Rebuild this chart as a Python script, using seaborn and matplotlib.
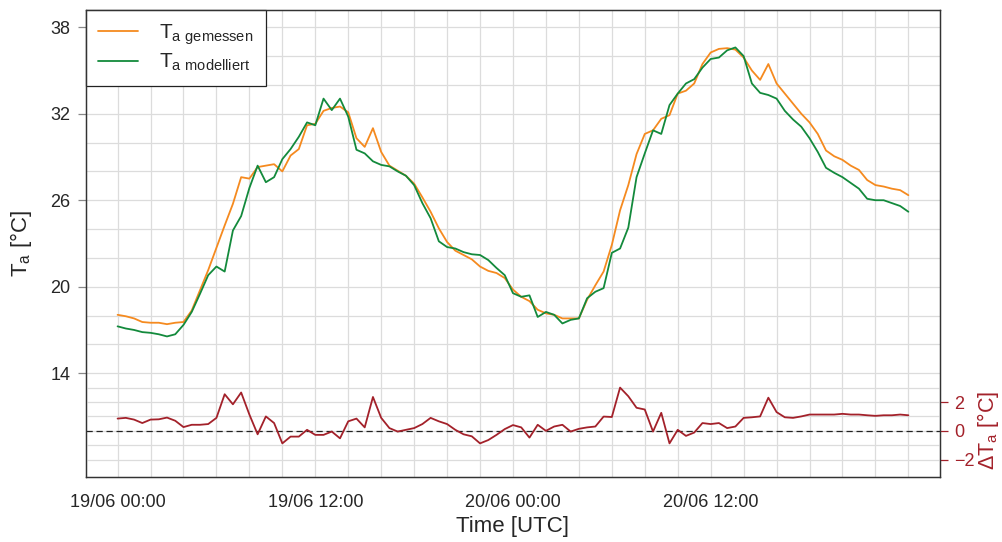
import numpy as np
import pandas as pd
import matplotlib
matplotlib.use("Agg")
import matplotlib.pyplot as plt
import seaborn as sns

# half-hourly values, 19/06 00:00 .. 21/06 00:00 (UTC)
ta_gemessen = [
    18.05, 17.95, 17.8, 17.55, 17.5, 17.5, 17.4, 17.5, 17.55, 18.35, 19.75, 21.15,
    22.7, 24.25, 25.75, 27.6, 27.5, 28.3, 28.4, 28.5, 28.0, 29.1, 29.55, 31.2,
    31.3, 32.2, 32.4, 32.5, 32.1, 30.3, 29.7, 31.0, 29.35, 28.4, 28.05, 27.7,
    27.15, 26.2, 25.2, 24.05, 23.1, 22.5, 22.2, 21.9, 21.4, 21.1, 20.95, 20.6,
    19.8, 19.3, 19.0, 18.4, 18.15, 18.05, 17.8, 17.8, 17.8, 19.1, 20.1, 21.05,
    22.9, 25.3, 27.05, 29.2, 30.6, 30.85, 31.65, 31.9, 33.4, 33.6, 34.1, 35.45,
    36.25, 36.5, 36.55, 36.45, 35.9, 35.0, 34.35, 35.45, 34.1, 33.4, 32.7, 32.0,
    31.4, 30.6, 29.45, 29.05, 28.8, 28.4, 28.1, 27.4, 27.05, 26.95, 26.8, 26.7,
    26.35,
]
ta_modelliert = [
    17.25, 17.1, 17.0, 16.85, 16.8, 16.7, 16.55, 16.7, 17.35, 18.25, 19.5, 20.8,
    21.4, 21.05, 23.9, 24.9, 26.85, 28.4, 27.25, 27.6, 28.85, 29.55, 30.4, 31.4,
    31.2, 33.05, 32.25, 33.05, 31.8, 29.5, 29.25, 28.7, 28.45, 28.35, 28.0, 27.7,
    27.05, 25.8, 24.75, 23.15, 22.75, 22.65, 22.4, 22.25, 22.2, 21.85, 21.3, 20.8,
    19.55, 19.3, 19.4, 17.9, 18.25, 18.05, 17.45, 17.7, 17.8, 19.2, 19.65, 19.9,
    22.35, 22.65, 24.1, 27.6, 29.25, 30.85, 30.6, 32.6, 33.4, 34.1, 34.4, 35.2,
    35.8, 35.9, 36.4, 36.6, 36.0, 34.1, 33.45, 33.3, 33.05, 32.2, 31.6, 31.1,
    30.3, 29.35, 28.25, 27.9, 27.6, 27.2, 26.8, 26.1, 26.0, 26.0, 25.8, 25.6,
    25.2,
]
delta_ta = [
    0.85, 0.9, 0.78, 0.54, 0.78, 0.8, 0.92, 0.7, 0.26, 0.42, 0.42, 0.47,
    0.9, 2.54, 1.84, 2.66, 1.13, -0.24, 1.0, 0.54, -0.87, -0.4, -0.4, 0.07,
    -0.28, -0.28, -0.05, -0.52, 0.66, 0.85, 0.24, 2.35, 0.9, 0.19, -0.05, 0.07,
    0.19, 0.47, 0.9, 0.66, 0.47, 0.07, -0.24, -0.38, -0.87, -0.64, -0.28, 0.12,
    0.4, 0.24, -0.47, 0.42, 0.0, 0.3, 0.42, -0.05, 0.14, 0.24, 0.3, 0.99,
    0.96, 3.0, 2.4, 1.6, 1.48, -0.05, 1.25, -0.87, 0.07, -0.35, -0.12, 0.54,
    0.47, 0.54, 0.19, 0.3, 0.9, 0.94, 1.0, 2.3, 1.3, 0.94, 0.9, 1.0,
    1.13, 1.13, 1.13, 1.13, 1.18, 1.13, 1.13, 1.08, 1.04, 1.08, 1.08, 1.13,
    1.08,
]

x_labels = ["19/06 00:00", "", "19/06 12:00", "", "20/06 00:00", "", "20/06 12:00", ""]
y_ticks = [14, 20, 26, 32, 38]
dy_ticks = [-2, 0, 2]

c_mess = "#f58a1f"
c_mod = "#138a3c"
c_diff = "#a3212a"

t0 = pd.Timestamp("2019-06-19 00:00")
df = pd.DataFrame({
    "time": pd.date_range(t0, periods=len(ta_gemessen), freq="30min"),
    "gemessen": ta_gemessen,
    "modelliert": ta_modelliert,
    "delta": delta_ta,
})

sns.set_style("white")
plt.rcParams["font.family"] = ["Liberation Sans", "DejaVu Sans"]
plt.rcParams["mathtext.default"] = "regular"

fig = plt.figure(figsize=(10.03, 5.42), dpi=100)
ax = fig.add_axes([0.0857, 0.12, 0.8515, 0.8616])
ax2 = ax.twinx()
h = pd.Timedelta(hours=1)

# grid (R style: drawn by hand)
for k in range(0, 49, 2):
    ax.axvline(t0 + k * h, color="#dcdcdc", lw=0.9, zorder=0)
for v in range(14, 39, 2):
    ax.axhline(v, color="#dcdcdc", lw=0.9, zorder=0)
for v in range(-2, 4):
    ax2.axhline(v, color="#dcdcdc", lw=0.9, zorder=0)

sns.lineplot(data=df, x="time", y="gemessen", color=c_mess, lw=1.3, ax=ax,
             label=r"T$_{a\ gemessen}$")
sns.lineplot(data=df, x="time", y="modelliert", color=c_mod, lw=1.3, ax=ax,
             label=r"T$_{a\ modelliert}$")
ax2.axhline(0, color="#222222", lw=0.9, ls=(0, (5, 3)))
sns.lineplot(data=df, x="time", y="delta", color=c_diff, lw=1.3, ax=ax2)

ax.set_xlim(t0 - 1.92 * h, t0 + 49.92 * h)
ax.set_ylim(6.8, 39.2)
ax2.set_ylim(-3.2, 29.2)

ax.set_xticks([t0 + 6 * k * h for k in range(8)])
ax.set_xticklabels(x_labels)
ax.set_yticks(y_ticks)
ax.tick_params(axis="x", length=6, width=0.9, color="#333333", pad=6, labelsize=13)
ax.tick_params(axis="y", length=6, width=0.9, color="#888888", pad=5, labelsize=13)
ax2.set_yticks(dy_ticks)
ax2.tick_params(axis="y", length=6, width=0.9, color=c_diff, labelcolor=c_diff,
                pad=4, labelsize=13)

ax.set_xlabel("Time [UTC]", fontsize=16, labelpad=4)
ax.set_ylabel(r"T$_a$ [°C]", fontsize=16, labelpad=12)
ax2.set_ylabel(r"ΔT$_a$ [°C]", fontsize=15.5, color=c_diff)
ax2.yaxis.set_label_coords(1.041, 0.1)

for a in (ax, ax2):
    for s in a.spines.values():
        s.set_color("#333333")
        s.set_linewidth(0.9)

leg = ax.legend(loc="upper left", borderaxespad=0, fancybox=False,
                framealpha=1, edgecolor="#222222", fontsize=15,
                handlelength=1.9, handletextpad=1.0, borderpad=0.6,
                labelspacing=0.25)
leg.get_frame().set_linewidth(0.9)

fig.savefig("out.png", dpi=100)
